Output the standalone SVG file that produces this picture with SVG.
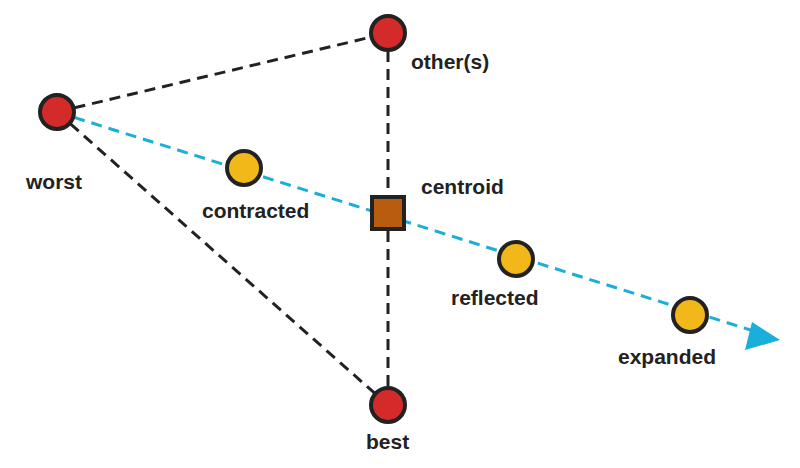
<svg xmlns="http://www.w3.org/2000/svg" width="800" height="468" viewBox="0 0 800 468">
<style>
.d{stroke:#222;stroke-width:3;stroke-dasharray:11 7;fill:none}
.b{stroke:#1aaedb;stroke-width:3;stroke-dasharray:11 7;fill:none}
.r{fill:#d42a2a;stroke:#222;stroke-width:4}
.y{fill:#f2b81a;stroke:#222;stroke-width:4}
text{font-family:"Liberation Sans",Arial,sans-serif;font-weight:bold;font-size:21px;fill:#222}
</style>
<rect width="800" height="468" fill="#fff"/>
<g id="connectors">
<line class="d" x1="57" y1="112" x2="388" y2="33"/>
<line class="d" x1="57" y1="112" x2="388" y2="405"/>
<line class="d" x1="388" y1="33" x2="388" y2="405"/>
<line class="b" x1="57" y1="112" x2="760" y2="333"/>
<polygon points="780,340 745,350 752,322" fill="#1aaedb"/>
</g>
<g id="worst"><circle class="r" cx="57" cy="112" r="17"/><text x="26" y="189">worst</text></g>
<g id="other"><circle class="r" cx="388" cy="33" r="17"/><text x="411" y="69">other(s)</text></g>
<g id="best"><circle class="r" cx="388" cy="405" r="17"/><text x="366" y="449">best</text></g>
<g id="centroid"><rect x="372" y="197" width="32" height="32" fill="#b85c0f" stroke="#222" stroke-width="4"/><text x="421" y="194">centroid</text></g>
<g id="contracted"><circle class="y" cx="244" cy="168" r="17"/><text x="202" y="218">contracted</text></g>
<g id="reflected"><circle class="y" cx="516" cy="259" r="17"/><text x="451" y="305">reflected</text></g>
<g id="expanded"><circle class="y" cx="690" cy="315" r="17"/><text x="618" y="364">expanded</text></g>
</svg>
